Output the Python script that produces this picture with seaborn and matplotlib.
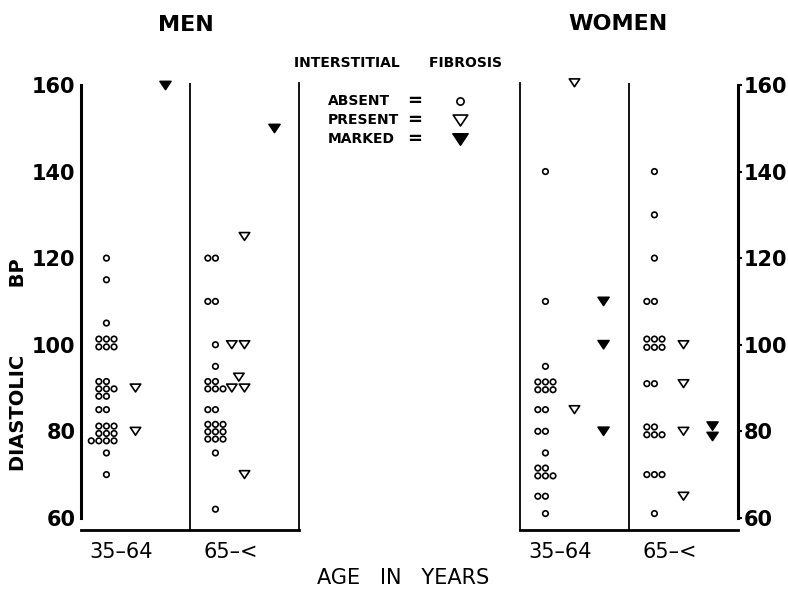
import pandas as pd
import seaborn as sns
import matplotlib.pyplot as plt
from matplotlib.path import Path
from matplotlib.lines import Line2D
from matplotlib.transforms import ScaledTranslation

ages = ["35–64", "65–<"]
fibrosis = ["ABSENT", "PRESENT", "MARKED"]
y_ticks = [60, 80, 100, 120, 140, 160]

# diastolic BP (stacked rows kept at their drawn heights)
men_young_absent = [120, 115, 105, 101.3, 101.3, 101.3, 99.5, 99.5, 99.5,
                    91.5, 91.5, 89.8, 89.8, 89.8, 88.1, 88.1, 85, 85,
                    81.2, 81.2, 81.2, 79.5, 79.5, 79.5, 77.8, 77.8, 77.8, 77.8,
                    75, 70]
men_young_present = [90, 80]
men_young_marked = [160]

men_old_absent = [120, 120, 110, 110, 100, 95, 91.5, 91.5, 89.8, 89.8, 89.8,
                  85, 85, 81.6, 81.6, 81.6, 79.9, 79.9, 79.9, 78.2, 78.2, 78.2,
                  75, 62]
men_old_present = [125, 100, 100, 92.5, 90, 90, 70]
men_old_marked = [150]

women_young_absent = [140, 110, 95, 91.4, 91.4, 91.4, 89.6, 89.6, 89.6, 85, 85,
                      80, 80, 75, 71.5, 71.5, 69.7, 69.7, 69.7, 65, 65, 61]
women_young_present = [160.5, 85]
women_young_marked = [110, 100, 80]

women_old_absent = [140, 130, 120, 110, 110, 101.3, 101.3, 101.3, 99.4, 99.4,
                    99.4, 91, 91, 81, 81, 79.2, 79.2, 79.2, 70, 70, 70, 61]
women_old_present = [100, 91, 80, 65]
women_old_marked = [81.2, 78.8]


def long_table(groups):
    rows = []
    for age, fib, values in groups:
        rows += [{"age": age, "fibrosis": fib, "bp": v} for v in values]
    return pd.DataFrame(rows)


men = long_table([
    (ages[0], "ABSENT", men_young_absent), (ages[0], "PRESENT", men_young_present),
    (ages[0], "MARKED", men_young_marked), (ages[1], "ABSENT", men_old_absent),
    (ages[1], "PRESENT", men_old_present), (ages[1], "MARKED", men_old_marked)])
women = long_table([
    (ages[0], "ABSENT", women_young_absent), (ages[0], "PRESENT", women_young_present),
    (ages[0], "MARKED", women_young_marked), (ages[1], "ABSENT", women_old_absent),
    (ages[1], "PRESENT", women_old_present), (ages[1], "MARKED", women_old_marked)])

sns.set_style("white")
plt.rcParams["font.family"] = ["DejaVu Sans"]
plt.rcParams.update({"text.color": "black", "xtick.color": "black",
                     "ytick.color": "black", "axes.edgecolor": "black"})

W, H = 788, 593
fig = plt.figure(figsize=(W / 100, H / 100), dpi=100)


def fx(px):
    return px / W


def fy(py):
    return 1 - py / H


ax_m = fig.add_axes([fx(81), fy(530), (299 - 81) / W, (530 - 82.8) / H])
ax_w = fig.add_axes([fx(520), fy(530), (738 - 520) / W, (530 - 82.8) / H])

# wide, flat down-pointing triangle
tri = Path([(-1, 0.75), (1, 0.75), (0, -0.75), (0, 0)], closed=True)
palette = {"ABSENT": "white", "PRESENT": "white", "MARKED": "black"}
common = dict(x="age", y="bp", hue="fibrosis", order=ages, hue_order=fibrosis,
              palette=palette, dodge=True, edgecolor="black", legend=False)

for ax, df in [(ax_m, men), (ax_w, women)]:
    sns.swarmplot(data=df[df["fibrosis"] == "ABSENT"], size=4.0, marker="o",
                  linewidth=1.2, ax=ax, **common)
    sns.swarmplot(data=df[df["fibrosis"] == "PRESENT"], size=7.5, marker=tri,
                  linewidth=1.2, ax=ax, **common)
    # marked cases sit on their own values, stacked where they coincide
    sns.stripplot(data=df[df["fibrosis"] == "MARKED"], size=8, marker=tri,
                  linewidth=1.1, jitter=False, ax=ax, **common)

    # empty dodge groups would otherwise draw a stray marker at the origin
    for coll in list(ax.collections):
        if len(coll.get_offsets()) == 0:
            coll.remove()
        else:
            coll.set_clip_on(False)

    ax.set_xlim(-0.5, 1.5)
    ax.set_ylim(57.2, 160.5)
    ax.set_xlabel("")
    ax.set_ylabel("")
    ax.axvline(0.5, color="black", lw=1.3)
    ax.set_yticks(y_ticks)
    ax.set_yticks([60, 160], minor=True)
    ax.set_xticks([0, 1], ages)
    ax.tick_params(axis="x", length=0, pad=9, labelsize=15)
    ax.tick_params(axis="y", which="major", direction="out", length=3, width=1.5,
                   labelsize=15, pad=1)
    ax.tick_params(axis="y", which="minor", direction="in", length=6, width=2)
    plt.setp(ax.get_yticklabels(), fontweight="bold")
    for lbl in ax.get_xticklabels():
        lbl.set_transform(lbl.get_transform() + ScaledTranslation(-0.14, 0, fig.dpi_scale_trans))
    ax.spines["top"].set_visible(False)
    ax.spines["bottom"].set_linewidth(2)

ax_m.spines["left"].set_bounds(60, 160)
ax_m.spines["left"].set_linewidth(2.2)
ax_m.spines["right"].set_linewidth(1.3)

ax_w.yaxis.tick_right()
ax_w.spines["right"].set_bounds(60, 160)
ax_w.spines["right"].set_linewidth(2.2)
ax_w.spines["left"].set_linewidth(1.3)
plt.setp(ax_w.get_yticklabels(), fontweight="bold")

# titles and axis captions
fig.text(fx(186), fy(25), "MEN", ha="center", va="center", fontsize=16, fontweight="bold")
fig.text(fx(618), fy(24), "WOMEN", ha="center", va="center", fontsize=16, fontweight="bold")
fig.text(fx(19), fy(365), "DIASTOLIC          BP", rotation=90, ha="center", va="center",
         fontsize=14, fontweight="bold")
fig.text(fx(403), fy(578), "AGE   IN   YEARS", ha="center", va="center", fontsize=15)

# key
fig.text(fx(398), fy(63), "INTERSTITIAL      FIBROSIS", ha="center", va="center",
         fontsize=10, fontweight="bold")
key_marks = {"ABSENT": ("o", 5.2, "white", 1.2), "PRESENT": (tri, 10.5, "white", 1.2),
             "MARKED": (tri, 11, "black", 1.1)}
for i, fib in enumerate(fibrosis):
    y = 101 + 19 * i
    fig.text(fx(328), fy(y), fib, ha="left", va="center", fontsize=10, fontweight="bold")
    fig.text(fx(415), fy(y), "=", ha="center", va="center", fontsize=13, fontweight="bold")
    m, ms, fc, mw = key_marks[fib]
    fig.add_artist(Line2D([fx(460)], [fy(y)], transform=fig.transFigure, marker=m,
                          markersize=ms, markerfacecolor=fc, markeredgecolor="black",
                          markeredgewidth=mw, linestyle="none"))

fig.savefig("out.png", dpi=100)
